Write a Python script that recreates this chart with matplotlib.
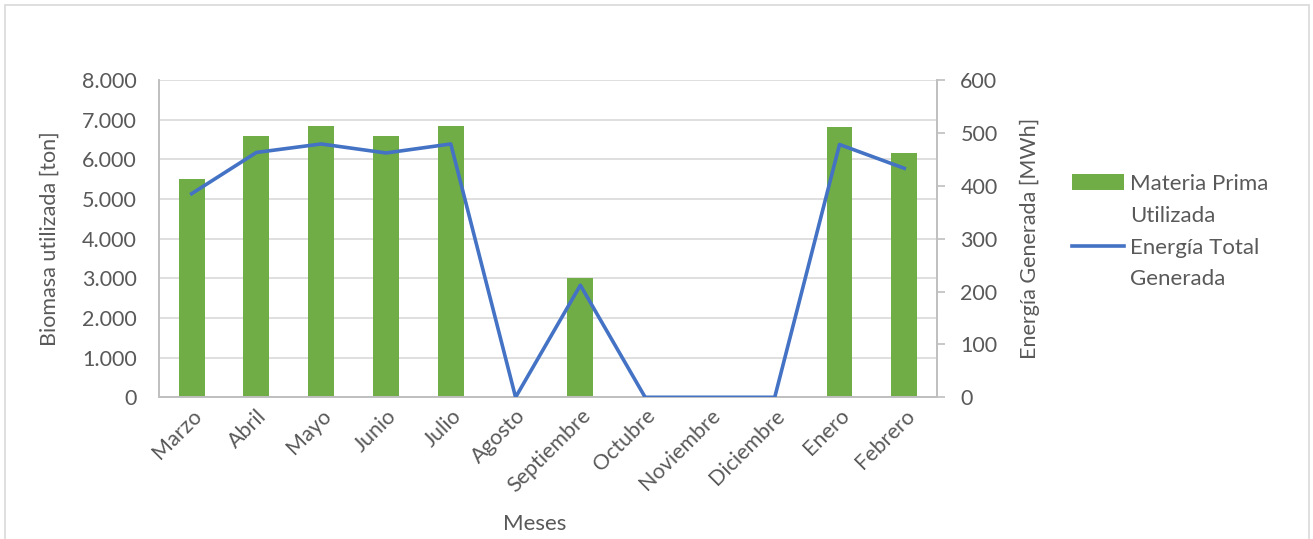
import numpy as np
import matplotlib
matplotlib.use('Agg')
import matplotlib.pyplot as plt
from matplotlib.ticker import FuncFormatter
from matplotlib.patches import Rectangle
from matplotlib.lines import Line2D

plt.rcParams['font.family'] = ['Lato', 'DejaVu Sans']

meses = ['Marzo', 'Abril', 'Mayo', 'Junio', 'Julio', 'Agosto', 'Septiembre',
         'Octubre', 'Noviembre', 'Diciembre', 'Enero', 'Febrero']
biomasa = [5500, 6600, 6830, 6600, 6830, 0, 3010, 0, 0, 0, 6820, 6160]
energia = [385, 463, 479, 462, 479, 0, 212, 0, 0, 0, 478, 433]

gray_txt = '#595959'
green = '#70AD47'
blue = '#4472C4'

fig = plt.figure(figsize=(13.13, 5.39), dpi=100)
ax = fig.add_axes([0.1213, 0.2629, 0.7134 - 0.1213, 0.8516 - 0.2629])
ax2 = ax.twinx()

x = np.arange(len(meses))
b = ax.bar(x, biomasa, width=0.4, color=green, zorder=2)
l, = ax2.plot(x, energia, color=blue, linewidth=2.6, solid_joinstyle='round', zorder=3)

ax.set_xlim(-0.5, len(meses) - 0.5)
ax.set_ylim(0, 8000)
ax2.set_ylim(0, 600)
ax.set_yticks(np.arange(0, 8001, 1000))
ax2.set_yticks(np.arange(0, 601, 100))
ax.yaxis.set_major_formatter(FuncFormatter(lambda v, p: f'{int(v):,}'.replace(',', '.')))

ax.grid(axis='y', color='#d9d9d9', linewidth=1.2, zorder=0)
ax.set_axisbelow(True)

for a in (ax, ax2):
    a.spines['top'].set_visible(False)
    for s in ('left', 'right', 'bottom'):
        a.spines[s].set_color('#bfbfbf')
        a.spines[s].set_linewidth(1.2)
    a.tick_params(colors=gray_txt, labelsize=15.5)

ax.tick_params(axis='y', length=0, pad=16)
ax.tick_params(axis='x', length=0, pad=6)
ax2.tick_params(axis='y', length=6, width=1.2, color='#bfbfbf', pad=11)

ax.set_xticks(x)
ax.set_xticklabels(meses, rotation=45, ha='right', rotation_mode='anchor')

ax.set_ylabel('Biomasa utilizada [ton]', fontsize=15.5, color=gray_txt)
ax2.set_ylabel('Energía Generada [MWh]', fontsize=15.5, color=gray_txt)
ax.set_xlabel('Meses', fontsize=16, color=gray_txt)
ax.yaxis.set_label_coords(-0.1277, 0.5)
ax2.yaxis.set_label_coords(1.107, 0.5)
ax.xaxis.set_label_coords(0.483, -0.368)

# legend: second line of each label as a blank entry
blank = Line2D([], [], alpha=0)
leg = fig.legend(handles=[b, blank, l, blank],
                 labels=['Materia Prima', 'Utilizada', 'Energía Total', 'Generada'],
                 loc='upper left', bbox_to_anchor=(1072 / 1313, 1 - 174 / 539),
                 frameon=False, fontsize=16, labelcolor=gray_txt, handlelength=2.35,
                 handletextpad=0.27, labelspacing=0.53, borderpad=0, borderaxespad=0)

# chart frame
fig.patches.append(Rectangle((5 / 1313, -0.05), (1309 - 5) / 1313, 1 - 5 / 539 + 0.05,
                             transform=fig.transFigure, fill=False,
                             edgecolor='#d9d9d9', linewidth=1.2))

fig.savefig('out.png', dpi=100)
